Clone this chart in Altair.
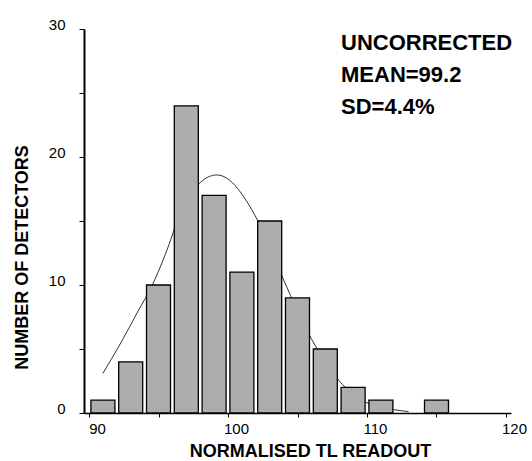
import altair as alt
import pandas as pd

# Histogram: bin centres and counts
bin_centres = [91, 93, 95, 97, 99, 101, 103, 105, 107, 109, 111, 113, 115]
counts = [1, 4, 10, 24, 17, 11, 15, 9, 5, 2, 1, 0, 1]

# Fitted curve, points
curve_x = [91.0, 92.3, 93.5, 94.6, 95.6, 96.2, 97.0, 98.0, 99.2, 100.1, 101.0,
           101.7, 102.2, 103.0, 104.0, 105.0, 106.0, 107.0, 108.0, 109.0, 110.0,
           111.0, 112.0, 113.0]
curve_y = [3.1, 5.5, 7.9, 10.1, 12.7, 14.5, 16.3, 18.0, 18.6, 18.2, 17.1,
           15.9, 14.9, 13.0, 10.4, 8.0, 5.8, 4.0, 2.5, 1.5, 0.8, 0.45, 0.25, 0.1]

annotation = ["UNCORRECTED", "MEAN=99.2", "SD=4.4%"]

x_ticks = [90, 95, 100, 105, 110, 115, 120]
y_ticks = [0, 5, 10, 15, 20, 25, 30]

FONT = "Liberation Sans"

hist = pd.DataFrame({"x": bin_centres, "n": counts})
hist = hist[hist["n"] > 0]
curve = pd.DataFrame({"x": curve_x, "y": curve_y})
ann = pd.DataFrame({"t": ["\n".join(annotation)]})

x_scale = alt.Scale(domain=[90, 120], nice=False, zero=False)
y_scale = alt.Scale(domain=[0, 30], nice=False)

x_axis = alt.Axis(
    values=x_ticks,
    labelExpr="datum.value % 10 == 0 ? datum.label : ''",
    title="NORMALISED TL READOUT",
    titleFont=FONT, titleFontSize=18, titleFontWeight="bold", titleColor="black",
    titleX=226, titleY=29,
    labelFont=FONT, labelFontSize=15, labelColor="black",
    labelOffset=8, labelPadding=4, tickSize=4, tickColor="black",
    domainColor="black", domainWidth=1.5, grid=False,
)
y_axis = alt.Axis(
    values=y_ticks,
    labelExpr="datum.value % 10 == 0 ? datum.label : ''",
    title="NUMBER OF DETECTORS",
    titleFont=FONT, titleFontSize=18, titleFontWeight="bold", titleColor="black",
    titleX=-53, titleY=228,
    labelFont=FONT, labelFontSize=15, labelColor="black",
    labelBaseline="alphabetic", labelPadding=14, tickSize=5, tickColor="black",
    domainColor="black", domainWidth=2, grid=False,
)

line = alt.Chart(curve).mark_line(color="#333333", strokeWidth=1, interpolate="monotone").encode(
    x=alt.X("x:Q", scale=x_scale, axis=x_axis),
    y=alt.Y("y:Q", scale=y_scale, axis=y_axis),
)

bars = alt.Chart(hist).mark_bar(size=24, fill="#adadad", stroke="black", strokeWidth=1.3).encode(
    x=alt.X("x:Q", scale=x_scale),
    y=alt.Y("n:Q", scale=y_scale),
)

text = alt.Chart(ann).mark_text(
    align="left", baseline="alphabetic", font=FONT, fontSize=22, fontWeight="bold",
    color="black", lineBreak="\n", lineHeight=32,
).encode(
    x=alt.value(257), y=alt.value(21), text="t:N"
)

chart = alt.layer(line, bars, text).properties(
    width=427, height=384,
    autosize=alt.AutoSizeParams(type="none"),
    padding={"left": 84, "top": 29, "right": 21, "bottom": 48},
    background="white",
).configure_view(stroke=None)

chart.save("out.html", embed_options={"renderer": "svg", "actions": False})
